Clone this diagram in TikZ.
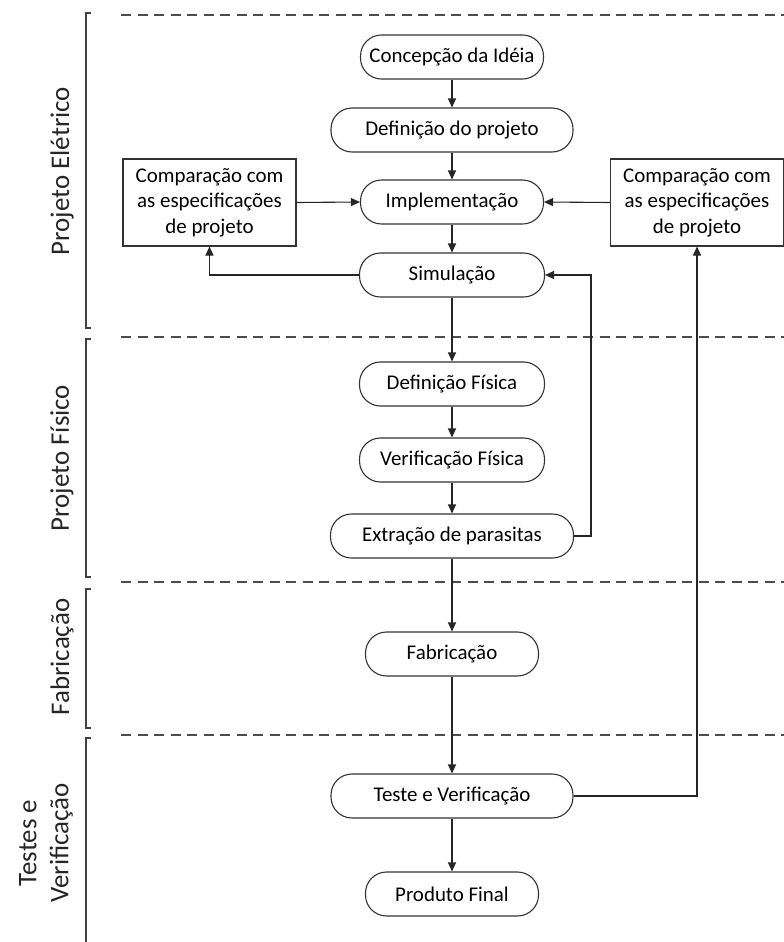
\documentclass[tikz,border=0pt]{standalone}
\usepackage{fontspec}
\setmainfont{Carlito}
\usetikzlibrary{arrows.meta}
\begin{document}
\begin{tikzpicture}[x=1bp,y=-1bp,
  proc/.style={draw=black!80, line width=1.1bp, rounded corners=21bp, minimum height=44bp, inner sep=0pt, font=\fontsize{21}{25.7}\selectfont},
  comp/.style={draw=black!80, line width=1.1bp, minimum width=173bp, minimum height=87bp, inner sep=0pt, align=center, font=\fontsize{21}{25.7}\selectfont},
  lbl/.style={rotate=90, inner sep=0pt, align=center, font=\fontsize{27}{32}\selectfont, text=black!85},
  sep/.style={draw=black!70, line width=1.6bp, dash pattern=on 10bp off 6.5bp},
  brk/.style={draw=black!75, line width=1.1bp},
  arr/.style={draw=black!85, line width=1.1bp, -{Triangle[length=9bp,width=8bp]}},
  ln/.style={draw=black!85, line width=1.1bp}
]
\useasboundingbox (0,0) rectangle (784,942);
\fill[white] (0,0) rectangle (784,942);

% separators
\draw[sep] (121,15) -- (784,15);
\draw[sep] (121,337) -- (784,337);
\draw[sep] (121,582) -- (784,582);
\draw[sep] (121,735) -- (784,735);

% brackets
\draw[brk] (91,13) -- (86,13) -- (86,328) -- (91,328);
\draw[brk] (91,339) -- (86,339) -- (86,577) -- (91,577);
\draw[brk] (91,589) -- (86,589) -- (86,728) -- (91,728);
\draw[brk] (91,738) -- (86,738) -- (86,942);

% labels
\node[lbl] (l1) at (62,171) {Projeto Elétrico};
\node[lbl] (l2) at (62,458) {Projeto Físico};
\node[lbl] (l3) at (62,657) {Fabricação};
\node[lbl] (l4) at (46,843) {Testes e\\Verificação};

% process nodes
\node[proc, minimum width=183bp] (conc) at (452,57) {Concepção da Idéia};
\node[proc, minimum width=242bp] (defp) at (452,130) {Definição do projeto};
\node[proc, minimum width=183bp] (impl) at (452,202) {Implementação};
\node[proc, minimum width=185bp] (sim) at (452,275) {Simulação};
\node[proc, minimum width=185bp] (deff) at (452,384) {Definição Física};
\node[proc, minimum width=185bp] (verf) at (452,460) {Verificação Física};
\node[proc, minimum width=243bp] (ext) at (452,536) {Extração de parasitas};
\node[proc, minimum width=173bp] (fab) at (452,654) {Fabricação};
\node[proc, minimum width=242bp] (teste) at (452,796) {Teste e Verificação};
\node[proc, minimum width=173bp] (prod) at (452,894) {Produto Final};

% comparison boxes
\node[comp] (compL) at (209.5,202.5) {Comparação com\\as especificações\\de projeto};
\node[comp] (compR) at (697,202.5) {Comparação com\\as especificações\\de projeto};

% main flow
\draw[arr] (conc) -- (defp);
\draw[arr] (defp) -- (impl);
\draw[arr] (impl) -- (sim);
\draw[arr] (sim) -- (deff);
\draw[arr] (deff) -- (verf);
\draw[arr] (verf) -- (ext);
\draw[arr] (ext) -- (fab);
\draw[arr] (fab) -- (teste);
\draw[arr] (teste) -- (prod);

% feedback
\draw[arr] (compL.east) -- (impl.west);
\draw[arr] (compR.west) -- (impl.east);
\draw[arr] (sim.west) -| (compL.south);
\coordinate (fbk) at (591,536);
\draw[arr] (ext.east) -- (fbk) |- (sim.east);
\draw[arr] (teste.east) -| (compR.south);
\end{tikzpicture}
\end{document}
